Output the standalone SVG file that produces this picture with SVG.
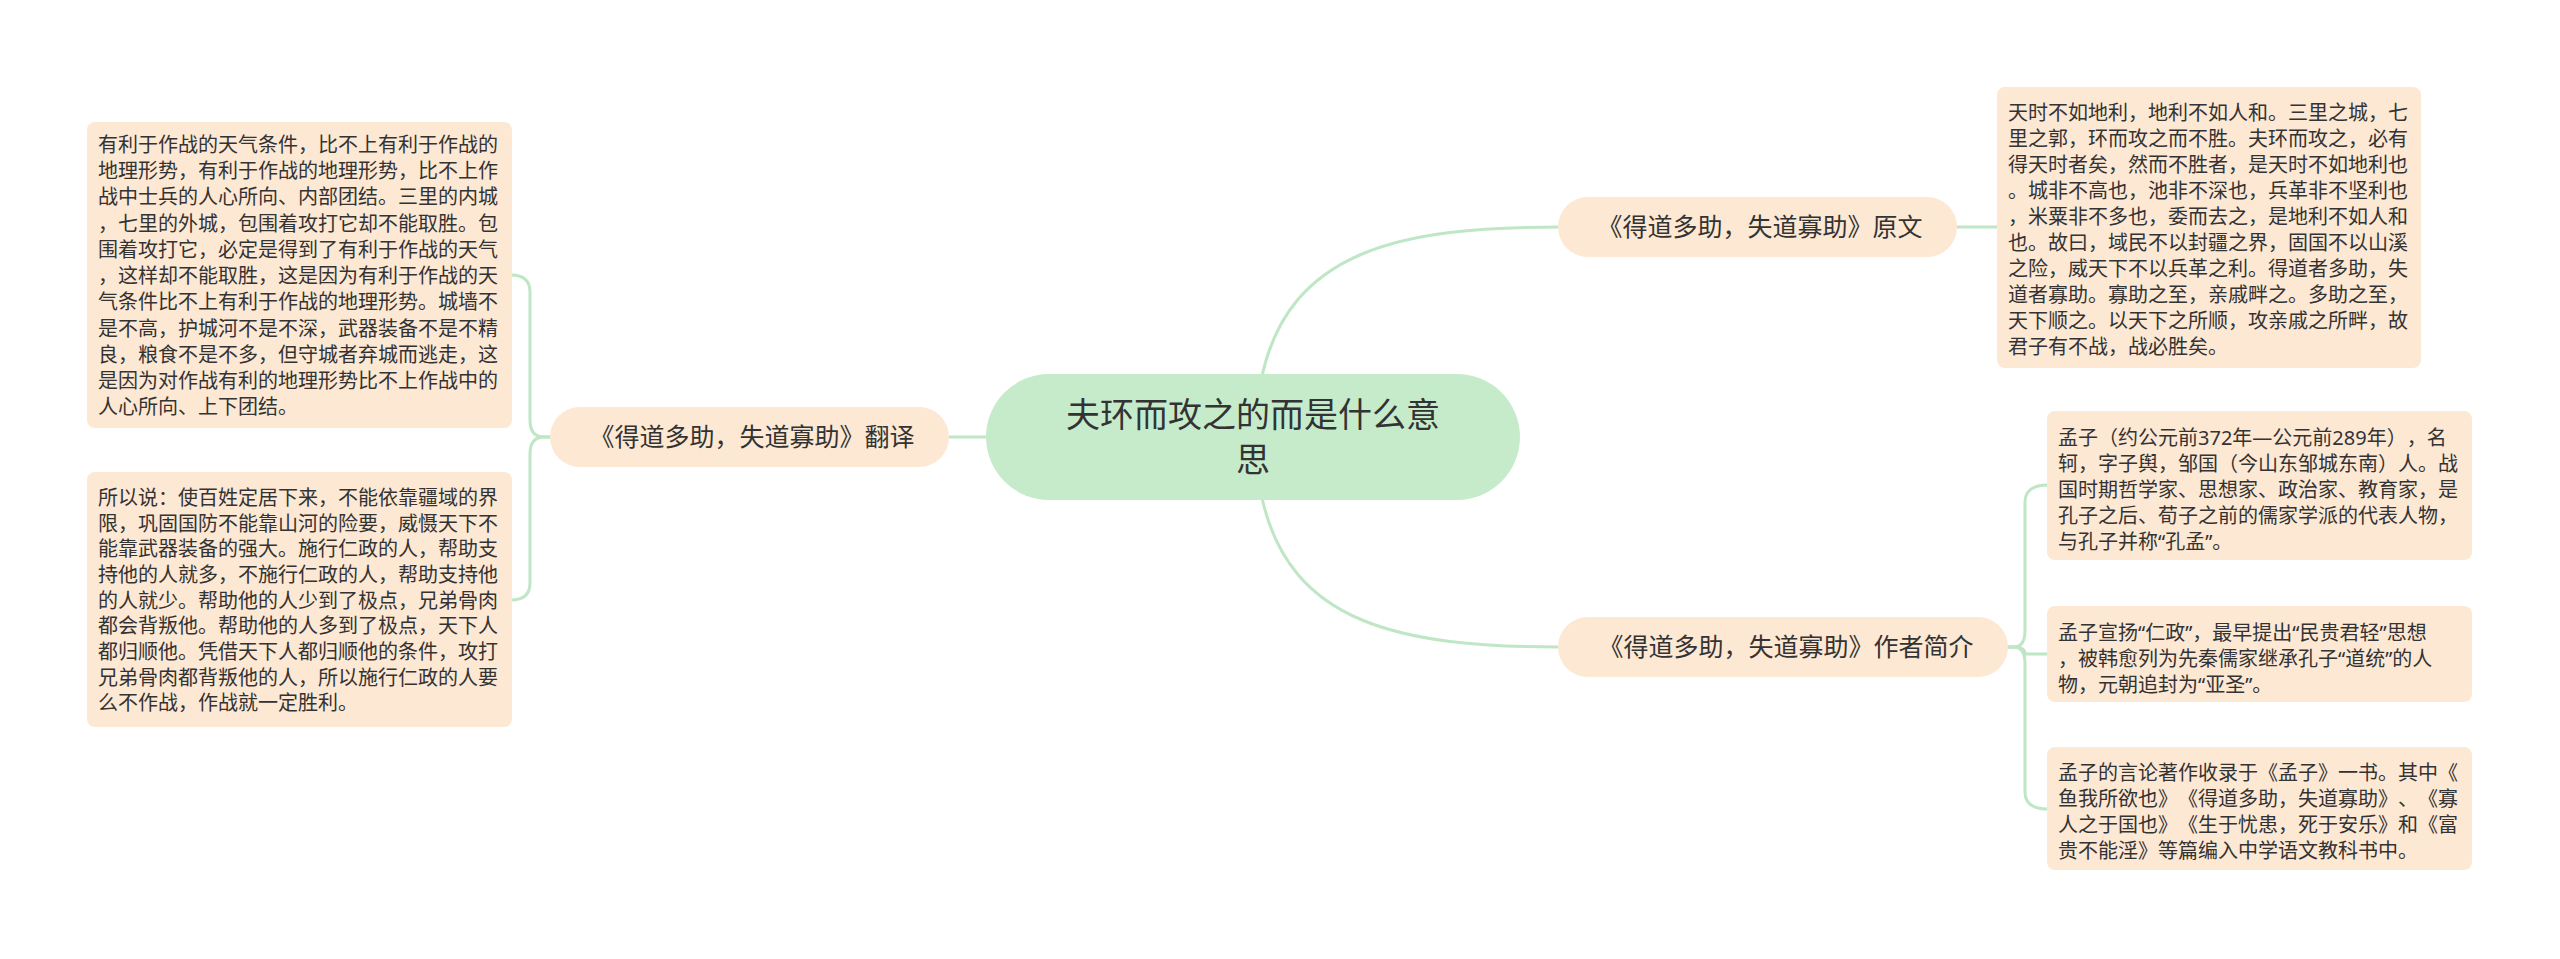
<svg xmlns="http://www.w3.org/2000/svg" width="2560" height="959" viewBox="0 0 2560 959">
<style>
.bg{fill:#ffffff}
.root{fill:#c6ebcb}
.sub{fill:#fde8d3}
.box{fill:#fde8d3}
.conn{fill:none;stroke:#bfe6c5;stroke-width:3}
text{font-family:"Noto Sans CJK SC","Noto Sans",sans-serif;fill:#333333;text-spacing-trim:space-all}
.t-root{font-size:34px}
.t-sub{font-size:25px}
.t-box{font-size:20px;font-family:"Noto Sans","Noto Sans CJK SC",sans-serif}
</style>
<rect class="bg" x="0" y="0" width="2560" height="959"/>
<g id="connectors">
<path class="conn" d="M1262 376 C1290 250 1400 227 1560 227"/>
<path class="conn" d="M1262 498 C1290 624 1400 647 1560 647"/>
<path class="conn" d="M986 437 L949 437"/>
<path class="conn" d="M1956 227 L1998 227"/>
<path class="conn" d="M2007 647 L2014 647 Q2025 647 2025 630 L2025 502 Q2025 485 2048 485"/>
<path class="conn" d="M2007 647 L2014 647 Q2025 647 2025 654 Q2025 654 2048 654"/>
<path class="conn" d="M2007 647 L2014 647 Q2025 647 2025 664 L2025 792 Q2025 809 2048 809"/>
<path class="conn" d="M551 437 L544 437 Q530 437 530 420 L530 292 Q530 275 511 275"/>
<path class="conn" d="M551 437 L544 437 Q530 437 530 454 L530 583 Q530 600 511 600"/>
</g>
<g id="root">
<rect class="root" x="986" y="374" width="534" height="126" rx="63"/>
<text class="t-root" x="1253" y="427" text-anchor="middle">夫环而攻之的而是什么意</text>
<text class="t-root" x="1253" y="472" text-anchor="middle">思</text>
</g>
<g id="node-yuanwen">
<rect class="sub" x="1558" y="197" width="399" height="60" rx="30"/>
<text class="t-sub" x="1760" y="236" text-anchor="middle">《得道多助，失道寡助》原文</text>
</g>
<g id="node-zuozhe">
<rect class="sub" x="1558" y="617" width="450" height="60" rx="30"/>
<text class="t-sub" x="1786" y="656" text-anchor="middle">《得道多助，失道寡助》作者简介</text>
</g>
<g id="node-fanyi">
<rect class="sub" x="550" y="407" width="399" height="60" rx="30"/>
<text class="t-sub" x="752" y="446" text-anchor="middle">《得道多助，失道寡助》翻译</text>
</g>
<g id="box-yuanwen">
<rect class="box" x="1997" y="87" width="424" height="281" rx="8"/>
<text class="t-box" x="2008" y="120">天时不如地利，地利不如人和。三里之城，七</text>
<text class="t-box" x="2008" y="146">里之郭，环而攻之而不胜。夫环而攻之，必有</text>
<text class="t-box" x="2008" y="172">得天时者矣，然而不胜者，是天时不如地利也</text>
<text class="t-box" x="2008" y="198">。城非不高也，池非不深也，兵革非不坚利也</text>
<text class="t-box" x="2008" y="224">，米粟非不多也，委而去之，是地利不如人和</text>
<text class="t-box" x="2008" y="250">也。故曰，域民不以封疆之界，固国不以山溪</text>
<text class="t-box" x="2008" y="276">之险，威天下不以兵革之利。得道者多助，失</text>
<text class="t-box" x="2008" y="302">道者寡助。寡助之至，亲戚畔之。多助之至，</text>
<text class="t-box" x="2008" y="328">天下顺之。以天下之所顺，攻亲戚之所畔，故</text>
<text class="t-box" x="2008" y="354">君子有不战，战必胜矣。</text>
</g>
<g id="box-zuozhe-1">
<rect class="box" x="2047" y="411" width="425" height="149" rx="8"/>
<text class="t-box" x="2058" y="445">孟子（约公元前372年—公元前289年），名</text>
<text class="t-box" x="2058" y="471">轲，字子舆，邹国（今山东邹城东南）人。战</text>
<text class="t-box" x="2058" y="497">国时期哲学家、思想家、政治家、教育家，是</text>
<text class="t-box" x="2058" y="523">孔子之后、荀子之前的儒家学派的代表人物，</text>
<text class="t-box" x="2058" y="549">与孔子并称“孔孟”。</text>
</g>
<g id="box-zuozhe-2">
<rect class="box" x="2047" y="606" width="425" height="96" rx="8"/>
<text class="t-box" x="2058" y="640">孟子宣扬“仁政”，最早提出“民贵君轻”思想</text>
<text class="t-box" x="2058" y="666">，被韩愈列为先秦儒家继承孔子“道统”的人</text>
<text class="t-box" x="2058" y="692">物，元朝追封为“亚圣”。</text>
</g>
<g id="box-zuozhe-3">
<rect class="box" x="2047" y="747" width="425" height="123" rx="8"/>
<text class="t-box" x="2058" y="780">孟子的言论著作收录于《孟子》一书。其中《</text>
<text class="t-box" x="2058" y="806">鱼我所欲也》《得道多助，失道寡助》、《寡</text>
<text class="t-box" x="2058" y="832">人之于国也》《生于忧患，死于安乐》和《富</text>
<text class="t-box" x="2058" y="858">贵不能淫》等篇编入中学语文教科书中。</text>
</g>
<g id="box-fanyi-1">
<rect class="box" x="87" y="122" width="425" height="306" rx="8"/>
<text class="t-box" x="98" y="152">有利于作战的天气条件，比不上有利于作战的</text>
<text class="t-box" x="98" y="178">地理形势，有利于作战的地理形势，比不上作</text>
<text class="t-box" x="98" y="204">战中士兵的人心所向、内部团结。三里的内城</text>
<text class="t-box" x="98" y="231">，七里的外城，包围着攻打它却不能取胜。包</text>
<text class="t-box" x="98" y="257">围着攻打它，必定是得到了有利于作战的天气</text>
<text class="t-box" x="98" y="283">，这样却不能取胜，这是因为有利于作战的天</text>
<text class="t-box" x="98" y="309">气条件比不上有利于作战的地理形势。城墙不</text>
<text class="t-box" x="98" y="336">是不高，护城河不是不深，武器装备不是不精</text>
<text class="t-box" x="98" y="362">良，粮食不是不多，但守城者弃城而逃走，这</text>
<text class="t-box" x="98" y="388">是因为对作战有利的地理形势比不上作战中的</text>
<text class="t-box" x="98" y="414">人心所向、上下团结。</text>
</g>
<g id="box-fanyi-2">
<rect class="box" x="87" y="472" width="425" height="255" rx="8"/>
<text class="t-box" x="98" y="505">所以说：使百姓定居下来，不能依靠疆域的界</text>
<text class="t-box" x="98" y="531">限，巩固国防不能靠山河的险要，威慑天下不</text>
<text class="t-box" x="98" y="556">能靠武器装备的强大。施行仁政的人，帮助支</text>
<text class="t-box" x="98" y="582">持他的人就多，不施行仁政的人，帮助支持他</text>
<text class="t-box" x="98" y="608">的人就少。帮助他的人少到了极点，兄弟骨肉</text>
<text class="t-box" x="98" y="633">都会背叛他。帮助他的人多到了极点，天下人</text>
<text class="t-box" x="98" y="659">都归顺他。凭借天下人都归顺他的条件，攻打</text>
<text class="t-box" x="98" y="685">兄弟骨肉都背叛他的人，所以施行仁政的人要</text>
<text class="t-box" x="98" y="710">么不作战，作战就一定胜利。</text>
</g>
</svg>
